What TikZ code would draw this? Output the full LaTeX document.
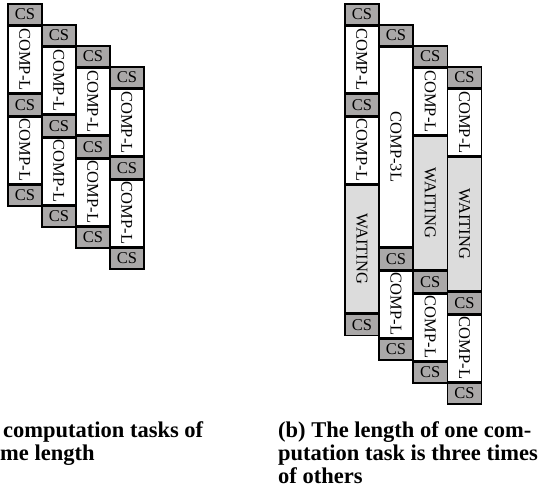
\documentclass[tikz,border=0pt]{standalone}
\usepackage{fontspec}
\setmainfont{Liberation Serif}
\definecolor{csgray}{RGB}{170,168,168}
\definecolor{waitgray}{RGB}{220,220,220}
\begin{document}
\begin{tikzpicture}[x=1pt,y=-1pt,
  box/.style={draw=black, line width=1.5pt, anchor=north west, inner sep=0pt,
    minimum width=34.2pt, font=\fontsize{16.5}{18}\selectfont},
  cs/.style={box, fill=csgray, minimum height=21pt},
  comp/.style={box, fill=white, minimum height=66.5pt},
  comptri/.style={box, fill=white, minimum height=199.5pt},
  wait/.style={box, fill=waitgray, minimum height=#1},
  captext/.style={anchor=base west, inner sep=0pt,
    font=\fontsize{22.5}{23}\selectfont\bfseries}
]
\useasboundingbox (0,0) rectangle (541,491);
% ---------- (a) ----------
\foreach \k/\x in {0/7,1/41,2/75,3/109}{
  \pgfmathsetmacro{\y}{3+21*\k}
  \node[cs]   (a\k c1) at (\x,\y) {CS};
  \node[comp] (a\k p1) at (a\k c1.south west) {\rotatebox{-90}{COMP-L}};
  \node[cs]   (a\k c2) at (a\k p1.south west) {CS};
  \node[comp] (a\k p2) at (a\k c2.south west) {\rotatebox{-90}{COMP-L}};
  \node[cs]   (a\k c3) at (a\k p2.south west) {CS};
}
% ---------- (b) ----------
% column 1
\node[cs]   (b0c1) at (344,3) {CS};
\node[comp] (b0p1) at (b0c1.south west) {\rotatebox{-90}{COMP-L}};
\node[cs]   (b0c2) at (b0p1.south west) {CS};
\node[comp] (b0p2) at (b0c2.south west) {\rotatebox{-90}{COMP-L}};
\node[wait=128pt] (b0w) at (b0p2.south west) {\rotatebox{-90}{WAITING}};
\node[cs]   (b0c3) at (b0w.south west) {CS};
% column 2
\node[cs]      (b1c1) at (378.2,24) {CS};
\node[comptri] (b1p1) at (b1c1.south west) {\rotatebox{-90}{COMP-3L}};
\node[cs]      (b1c2) at (b1p1.south west) {CS};
\node[comp]    (b1p2) at (b1c2.south west) {\rotatebox{-90}{COMP-L}};
\node[cs]      (b1c3) at (b1p2.south west) {CS};
% column 3
\node[cs]   (b2c1) at (412.4,45) {CS};
\node[comp] (b2p1) at (b2c1.south west) {\rotatebox{-90}{COMP-L}};
\node[wait=133.5pt] (b2w) at (b2p1.south west) {\rotatebox{-90}{WAITING}};
\node[cs]   (b2c2) at (b2w.south west) {CS};
\node[comp] (b2p2) at (b2c2.south west) {\rotatebox{-90}{COMP-L}};
\node[cs]   (b2c3) at (b2p2.south west) {CS};
% column 4
\node[cs]   (b3c1) at (446.6,66) {CS};
\node[comp] (b3p1) at (b3c1.south west) {\rotatebox{-90}{COMP-L}};
\node[wait=133.5pt] (b3w) at (b3p1.south west) {\rotatebox{-90}{WAITING}};
\node[cs]   (b3c2) at (b3w.south west) {CS};
\node[comp] (b3p2) at (b3c2.south west) {\rotatebox{-90}{COMP-L}};
\node[cs]   (b3c3) at (b3p2.south west) {CS};
% ---------- captions ----------
\node[captext] (capa1) at (3,437) {computation tasks of};
\node[captext] (capa2) at (0,460) {me length};
\node[captext] (capb1) at (278,437) {(b) The length of one com-};
\node[captext] (capb2) at (278,460) {putation task is three times};
\node[captext] (capb3) at (278,483) {of others};
\end{tikzpicture}
\end{document}
